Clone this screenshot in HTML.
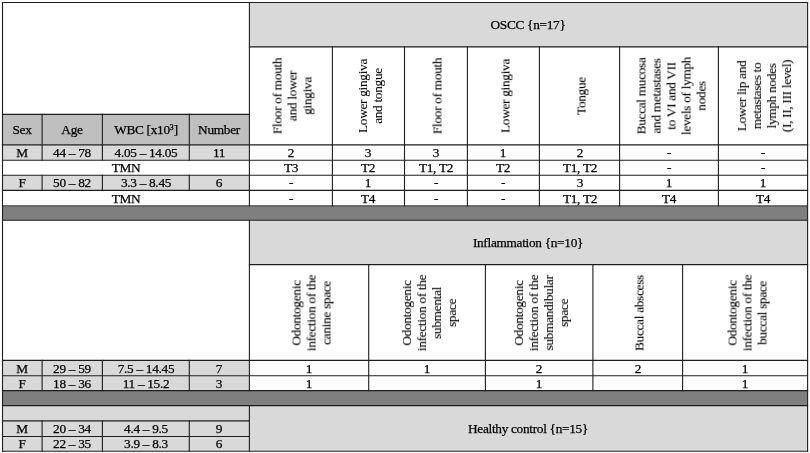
<!DOCTYPE html>
<html lang="en"><head><meta charset="utf-8"><title>Table</title>
<style>
html,body{margin:0;padding:0;background:#fff}
body{width:810px;height:453px;position:relative;overflow:hidden;font-family:"Liberation Serif","Times New Roman",serif;font-size:13.3px;line-height:15px;letter-spacing:-0.3px;color:#000;-webkit-text-stroke:0.25px #000}
svg{position:absolute;left:0;top:0}
.t,.q{position:absolute;white-space:nowrap;text-align:center;will-change:transform}
.t{transform:translate(-50%,-50%)}
.q{transform:translate(-50%,-50%) rotate(-90deg);-webkit-text-stroke:0.1px #000}
sup{font-size:58%;line-height:0;vertical-align:baseline;position:relative;top:-0.5em;letter-spacing:0}
</style></head><body>
<svg width="810" height="453" viewBox="0 0 810 453">
<rect x="249.4" y="2.5" width="558.2" height="44.4" fill="#d9d9d9"/>
<rect x="2.5" y="114.4" width="246.9" height="30.4" fill="#bfbfbf"/>
<rect x="2.5" y="144.8" width="246.9" height="15.4" fill="#d9d9d9"/>
<rect x="2.5" y="175.3" width="246.9" height="15.1" fill="#d9d9d9"/>
<rect x="2.5" y="205.9" width="805.1" height="14.4" fill="#7f7f7f"/>
<rect x="249.4" y="220.3" width="558.2" height="44.3" fill="#d9d9d9"/>
<rect x="2.5" y="360.4" width="246.9" height="30.2" fill="#d9d9d9"/>
<rect x="2.5" y="390.6" width="805.1" height="15" fill="#7f7f7f"/>
<rect x="2.5" y="405.6" width="805.1" height="45.6" fill="#d9d9d9"/>
<g stroke="#1e1e1e" stroke-width="1.1" stroke-linecap="square">
<line x1="2.5" y1="2.5" x2="807.6" y2="2.5"/>
<line x1="2.5" y1="451.2" x2="807.6" y2="451.2"/>
<line x1="249.4" y1="46.9" x2="807.6" y2="46.9"/>
<line x1="2.5" y1="114.4" x2="249.4" y2="114.4"/>
<line x1="2.5" y1="144.8" x2="807.6" y2="144.8" stroke-width="1.35"/>
<line x1="2.5" y1="160.2" x2="807.6" y2="160.2"/>
<line x1="2.5" y1="175.3" x2="807.6" y2="175.3"/>
<line x1="2.5" y1="190.4" x2="807.6" y2="190.4"/>
<line x1="2.5" y1="205.9" x2="807.6" y2="205.9" stroke="#484848"/>
<line x1="2.5" y1="220.3" x2="807.6" y2="220.3"/>
<line x1="249.4" y1="264.6" x2="807.6" y2="264.6"/>
<line x1="2.5" y1="360.4" x2="807.6" y2="360.4"/>
<line x1="2.5" y1="375.7" x2="807.6" y2="375.7"/>
<line x1="2.5" y1="390.6" x2="807.6" y2="390.6"/>
<line x1="2.5" y1="405.6" x2="807.6" y2="405.6"/>
<line x1="2.5" y1="420.9" x2="249.4" y2="420.9"/>
<line x1="2.5" y1="436.5" x2="249.4" y2="436.5"/>
<line x1="2.5" y1="2.5" x2="2.5" y2="451.2"/>
<line x1="807.6" y1="2.5" x2="807.6" y2="451.2"/>
<line x1="249.4" y1="2.5" x2="249.4" y2="205.9"/>
<line x1="249.4" y1="220.3" x2="249.4" y2="390.6"/>
<line x1="249.4" y1="405.6" x2="249.4" y2="451.2"/>
<line x1="42.1" y1="114.4" x2="42.1" y2="160.2"/>
<line x1="42.1" y1="175.3" x2="42.1" y2="190.4"/>
<line x1="102.4" y1="114.4" x2="102.4" y2="160.2"/>
<line x1="102.4" y1="175.3" x2="102.4" y2="190.4"/>
<line x1="189.3" y1="114.4" x2="189.3" y2="160.2"/>
<line x1="189.3" y1="175.3" x2="189.3" y2="190.4"/>
<line x1="332.4" y1="46.9" x2="332.4" y2="205.9"/>
<line x1="404.5" y1="46.9" x2="404.5" y2="205.9"/>
<line x1="467.4" y1="46.9" x2="467.4" y2="205.9"/>
<line x1="539.4" y1="46.9" x2="539.4" y2="205.9"/>
<line x1="619.6" y1="46.9" x2="619.6" y2="205.9"/>
<line x1="718.4" y1="46.9" x2="718.4" y2="205.9"/>
<line x1="368.7" y1="264.6" x2="368.7" y2="390.6"/>
<line x1="485.4" y1="264.6" x2="485.4" y2="390.6"/>
<line x1="592.9" y1="264.6" x2="592.9" y2="390.6"/>
<line x1="682.6" y1="264.6" x2="682.6" y2="390.6"/>
<line x1="42.1" y1="360.4" x2="42.1" y2="390.6"/>
<line x1="102.4" y1="360.4" x2="102.4" y2="390.6"/>
<line x1="189.3" y1="360.4" x2="189.3" y2="390.6"/>
<line x1="42.1" y1="420.9" x2="42.1" y2="451.2"/>
<line x1="102.4" y1="420.9" x2="102.4" y2="451.2"/>
<line x1="189.3" y1="420.9" x2="189.3" y2="451.2"/>
</g>
</svg>
<div class="t" style="left:528px;top:23.5px">OSCC {n=17}</div>
<div class="t" style="left:22.3px;top:129px">Sex</div>
<div class="t" style="left:72.25px;top:129px">Age</div>
<div class="t" style="left:145.85px;top:129px">WBC [x10<sup>3</sup>]</div>
<div class="t" style="left:219.35px;top:129px">Number</div>
<div class="q" style="left:292.4px;top:95.5px">Floor of mouth<br>and lower<br>gingiva</div>
<div class="q" style="left:369.95px;top:95.5px">Lower gingiva<br>and tongue</div>
<div class="q" style="left:437.45px;top:95.5px">Floor of mouth</div>
<div class="q" style="left:504.9px;top:95.5px">Lower gingiva</div>
<div class="q" style="left:581px;top:95.5px">Tongue</div>
<div class="q" style="left:670.5px;top:95.5px">Buccal mucosa<br>and metastases<br>to VI and VII<br>levels of lymph<br>nodes</div>
<div class="q" style="left:763.5px;top:95.5px">Lower lip and<br>metastases to<br>lymph nodes<br>(I, II, III level)</div>
<div class="t" style="left:22.3px;top:152px">M</div>
<div class="t" style="left:72.25px;top:152px">44 – 78</div>
<div class="t" style="left:145.85px;top:152px">4.05 – 14.05</div>
<div class="t" style="left:219.35px;top:152px">11</div>
<div class="t" style="left:290.9px;top:152px">2</div>
<div class="t" style="left:368.45px;top:152px">3</div>
<div class="t" style="left:435.95px;top:152px">3</div>
<div class="t" style="left:503.4px;top:152px">1</div>
<div class="t" style="left:579.5px;top:152px">2</div>
<div class="t" style="left:669px;top:152px">-</div>
<div class="t" style="left:763px;top:152px">-</div>
<div class="t" style="left:125.5px;top:167.25px">TMN</div>
<div class="t" style="left:290.9px;top:167.25px">T3</div>
<div class="t" style="left:368.45px;top:167.25px">T2</div>
<div class="t" style="left:435.95px;top:167.25px">T1, T2</div>
<div class="t" style="left:503.4px;top:167.25px">T2</div>
<div class="t" style="left:579.5px;top:167.25px">T1, T2</div>
<div class="t" style="left:669px;top:167.25px">-</div>
<div class="t" style="left:763px;top:167.25px">-</div>
<div class="t" style="left:22.3px;top:182.35px">F</div>
<div class="t" style="left:72.25px;top:182.35px">50 – 82</div>
<div class="t" style="left:145.85px;top:182.35px">3.3 – 8.45</div>
<div class="t" style="left:219.35px;top:182.35px">6</div>
<div class="t" style="left:290.9px;top:182.35px">-</div>
<div class="t" style="left:368.45px;top:182.35px">1</div>
<div class="t" style="left:435.95px;top:182.35px">-</div>
<div class="t" style="left:503.4px;top:182.35px">-</div>
<div class="t" style="left:579.5px;top:182.35px">3</div>
<div class="t" style="left:669px;top:182.35px">1</div>
<div class="t" style="left:763px;top:182.35px">1</div>
<div class="t" style="left:125.5px;top:197.65px">TMN</div>
<div class="t" style="left:290.9px;top:197.65px">-</div>
<div class="t" style="left:368.45px;top:197.65px">T4</div>
<div class="t" style="left:435.95px;top:197.65px">-</div>
<div class="t" style="left:503.4px;top:197.65px">-</div>
<div class="t" style="left:579.5px;top:197.65px">T1, T2</div>
<div class="t" style="left:669px;top:197.65px">T4</div>
<div class="t" style="left:763px;top:197.65px">T4</div>
<div class="t" style="left:528px;top:241.5px">Inflammation {n=10}</div>
<div class="q" style="left:310.55px;top:313px">Odontogenic<br>infection of the<br>canine space</div>
<div class="q" style="left:428.55px;top:313px">Odontogenic<br>infection of the<br>submental<br>space</div>
<div class="q" style="left:540.65px;top:313px">Odontogenic<br>infection of the<br>submandibular<br>space</div>
<div class="q" style="left:639.25px;top:313px">Buccal abscess</div>
<div class="q" style="left:746.6px;top:313px">Odontogenic<br>infection of the<br>buccal space</div>
<div class="t" style="left:22.3px;top:367.55px">M</div>
<div class="t" style="left:72.25px;top:367.55px">29 – 59</div>
<div class="t" style="left:145.85px;top:367.55px">7.5 – 14.45</div>
<div class="t" style="left:219.35px;top:367.55px">7</div>
<div class="t" style="left:309.05px;top:367.55px">1</div>
<div class="t" style="left:427.05px;top:367.55px">1</div>
<div class="t" style="left:539.15px;top:367.55px">2</div>
<div class="t" style="left:637.75px;top:367.55px">2</div>
<div class="t" style="left:745.1px;top:367.55px">1</div>
<div class="t" style="left:22.3px;top:382.65px">F</div>
<div class="t" style="left:72.25px;top:382.65px">18 – 36</div>
<div class="t" style="left:145.85px;top:382.65px">11 – 15.2</div>
<div class="t" style="left:219.35px;top:382.65px">3</div>
<div class="t" style="left:309.05px;top:382.65px">1</div>
<div class="t" style="left:539.15px;top:382.65px">1</div>
<div class="t" style="left:745.1px;top:382.65px">1</div>
<div class="t" style="left:22.3px;top:428.2px">M</div>
<div class="t" style="left:72.25px;top:428.2px">20 – 34</div>
<div class="t" style="left:145.85px;top:428.2px">4.4 – 9.5</div>
<div class="t" style="left:219.35px;top:428.2px">9</div>
<div class="t" style="left:22.3px;top:443.35px">F</div>
<div class="t" style="left:72.25px;top:443.35px">22 – 35</div>
<div class="t" style="left:145.85px;top:443.35px">3.9 – 8.3</div>
<div class="t" style="left:219.35px;top:443.35px">6</div>
<div class="t" style="left:528px;top:427.5px">Healthy control {n=15}</div>
</body></html>
